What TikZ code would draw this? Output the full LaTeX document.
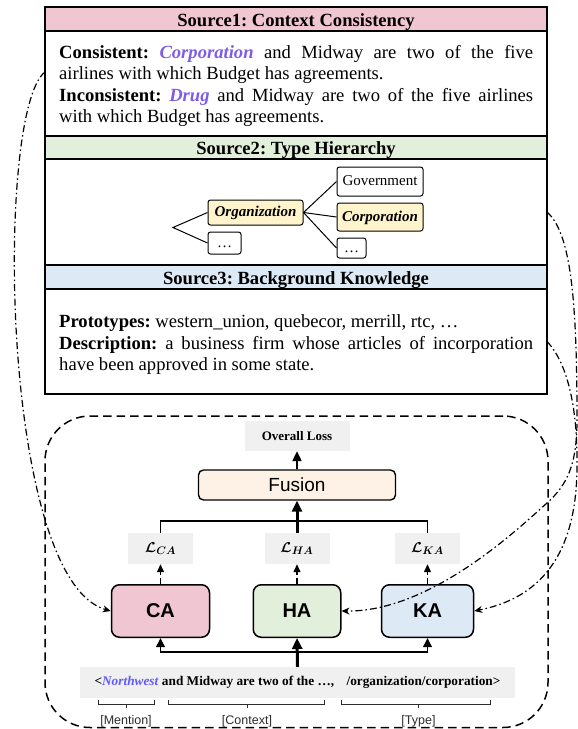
\documentclass[tikz,border=0pt]{standalone}
\usepackage{fontspec}
\usepackage{bm}
\setmainfont{Liberation Serif}
\newfontfamily\sansf{Liberation Sans}
\usetikzlibrary{arrows.meta,calc}
\setlength\parindent{0pt}
\frenchspacing
\definecolor{pinkH}{RGB}{241,198,211}
\definecolor{greenH}{RGB}{226,239,218}
\definecolor{blueH}{RGB}{221,233,245}
\definecolor{fusionC}{RGB}{254,242,230}
\definecolor{grayC}{RGB}{240,240,240}
\definecolor{yellowC}{RGB}{255,244,204}
\definecolor{purpleT}{RGB}{125,92,232}
\definecolor{blueT}{RGB}{98,88,255}
\definecolor{labelC}{RGB}{45,45,45}
\newcommand{\lossL}[1]{$\bm{\mathcal{L}}_{\bm{#1}}$}
\begin{document}
\begin{tikzpicture}[x=1pt,y=-1pt,
  panel/.style={draw, line width=1.3pt, anchor=north west, inner sep=0pt, outer sep=0pt, minimum width=502pt},
  hdrtext/.style={font=\fontsize{18.6}{22}\selectfont\bfseries, inner sep=0pt, anchor=base},
  bodytext/.style={font=\fontsize{18.6}{21.5}\selectfont, text width=474pt, align=justify, inner sep=0pt, anchor=north west},
  thbox/.style={draw, line width=1pt, rounded corners=2.5pt, inner sep=0pt, font=\fontsize{15}{18}\selectfont, text height=10.5pt, text depth=2.5pt},
  thline/.style={line width=1pt},
  graybox/.style={fill=grayC, inner sep=0pt, font=\fontsize{13}{15}\selectfont\bfseries},
  lossbox/.style={fill=grayC, inner sep=0pt, minimum width=65pt, minimum height=31pt, font=\fontsize{15}{17}\selectfont},
  modbox/.style={draw, line width=1.5pt, rounded corners=8pt, minimum height=52.5pt, inner sep=0pt, font=\sansf\bfseries\fontsize{20}{24}\selectfont},
  fusionbox/.style={draw, line width=1.4pt, rounded corners=5pt, fill=fusionC, minimum width=197pt, minimum height=30pt, inner sep=0pt, font=\sansf\fontsize{19}{22}\selectfont},
  framebox/.style={draw, line width=1.5pt, dash pattern=on 8.5pt off 5pt, rounded corners=45pt, anchor=north west, inner sep=0pt, outer sep=0pt},
  dd/.style={line width=1.2pt, dash pattern=on 7pt off 3pt on 1.5pt off 3pt, -{Stealth[length=8pt,width=7pt]}},
  uparrow/.style={line width=2.2pt, -{Triangle[length=10pt,width=9pt]}},
  bigarrow/.style={line width=3pt, -{Triangle[length=11pt,width=10pt]}},
  smallarrow/.style={line width=1.3pt, dash pattern=on 6pt off 3pt, -{Triangle[length=8pt,width=7pt]}},
  branch/.style={line width=1.9pt},
  bracel/.style={line width=1pt, draw=labelC},
  lbl/.style={font=\sansf\fontsize{12.5}{14}\selectfont, text=labelC, inner sep=0pt}
]
\useasboundingbox (0,0) rectangle (578,729);

% ---- top panel ----
\node[panel, fill=pinkH, minimum height=24pt] (h1) at (45,7) {};
\node[panel, minimum height=105pt] (b1) at (45,31) {};
\node[panel, fill=greenH, minimum height=23pt] (h2) at (45,136) {};
\node[panel, minimum height=106pt] (b2) at (45,159) {};
\node[panel, fill=blueH, minimum height=24pt] (h3) at (45,265) {};
\node[panel, minimum height=105pt] (b3) at (45,289) {};

\node[hdrtext] (t1) at (296,26.5) {Source1: Context Consistency};
\node[hdrtext] (t2) at (296,154.3) {Source2: Type Hierarchy};
\node[hdrtext] (t3) at (296,284) {Source3: Background Knowledge};

\node[bodytext] (x1) at (59,43.2) {\strut\textbf{Consistent:} \textcolor{purpleT}{\textbf{\textit{Corporation}}} and Midway are two of the five\linebreak airlines with which Budget has agreements.\par
\textbf{Inconsistent:} \textcolor{purpleT}{\textbf{\textit{Drug}}} and Midway are two of the five airlines\linebreak with which Budget has agreements.};

\node[bodytext] (x3) at (59,312.7) {\strut\textbf{Prototypes:} western\_union, quebecor, merrill, rtc, …\par
\textbf{Description:} a business firm whose articles of incorporation\linebreak have been approved in some state.};

% ---- type hierarchy ----
\node[thbox, fill=yellowC, minimum width=95pt, minimum height=25pt] (org) at (255.5,212.5) {\textbf{\textit{Organization}}};
\node[thbox, minimum width=33pt, minimum height=22pt] (d1) at (224.5,243) {…};
\node[thbox, minimum width=86pt, minimum height=29pt] (gov) at (380,181.5) {Government};
\node[thbox, fill=yellowC, minimum width=86pt, minimum height=28pt] (corp) at (380,217) {\textbf{\textit{Corporation}}};
\node[thbox, minimum width=29pt, minimum height=20pt] (d2) at (351.5,248) {…};
\coordinate (fork) at (173,227.5);
\draw[thline] (org.west) -- (fork) -- (d1.west);
\draw[thline] (org.east) -- (gov.west);
\draw[thline] (org.east) -- (corp.west);
\draw[thline] (org.east) -- (d2.west);

% ---- model frame ----
\node[framebox, minimum width=503pt, minimum height=311.5pt] (frame) at (45,416) {};

\node[graybox, minimum width=105pt, minimum height=30pt] (overall) at (297,436) {Overall Loss};
\node[fusionbox] (fusion) at (297,485) {Fusion};

\node[lossbox] (lca) at (160.5,548.5) {\lossL{CA}};
\node[lossbox] (lha) at (297,548.5) {\lossL{HA}};
\node[lossbox] (lka) at (427.5,548.5) {\lossL{KA}};

\node[modbox, fill=pinkH, minimum width=98pt] (ca) at (160.5,611) {CA};
\node[modbox, fill=greenH, minimum width=87.5pt] (ha) at (297,611) {HA};
\node[modbox, fill=blueH, minimum width=92pt] (ka) at (427.5,611) {KA};

\node[graybox, minimum width=435pt, minimum height=31pt, font=\fontsize{13.3}{15}\selectfont\bfseries] (input) at (297.5,682.5)
  {<\textcolor{blueT}{\textit{Northwest}} and Midway are two of the …,\hspace{9pt} /organization/corporation>};

% connectors
\draw[uparrow] (fusion.north) -- (overall.south);
\coordinate (tb) at (297,521);
\draw[branch] (lca.north) |- (tb) -| (lka.north);
\draw[bigarrow] (lha.north) -- (fusion.south);
\draw[smallarrow] (ca.north) -- (lca.south);
\draw[smallarrow] (ha.north) -- (lha.south);
\draw[smallarrow] (ka.north) -- (lka.south);

\coordinate (bb) at (297,652);
\draw[branch, -{Triangle[length=9pt,width=8.5pt]}] (bb) -| (ca.south);
\draw[branch, -{Triangle[length=9pt,width=8.5pt]}] (bb) -| (ka.south);
\draw[bigarrow] (input.north) -- (ha.south);

% braces and labels
\draw[bracel] (98,699.5) -- (98,704) -- (154.7,704) -- (154.7,699.5);
\draw[bracel] (126,704) -- (126,708);
\draw[bracel] (168,699.5) -- (168,704) -- (324,704) -- (324,699.5);
\draw[bracel] (247,704) -- (247,708);
\draw[bracel] (341.3,699.5) -- (341.3,704) -- (490.4,704) -- (490.4,699.5);
\draw[bracel] (418.5,704) -- (418.5,708);
\node[lbl] (lm) at (126,721.5) {[Mention]};
\node[lbl] (lc) at (247,721.5) {[Context]};
\node[lbl] (lt) at (418.5,721.5) {[Type]};

% dash-dot links
\draw[dd] ([yshift=11.5pt]b1.west) .. controls (-5,110) and (0,580) .. (ca.west);
\draw[dd] (b2.east) .. controls (571,233) and (577,300) .. (577,420)
   .. controls (577,465) and (567,485) .. (547,503)
   .. controls (517,530) and (430,612) .. (ha.east);
\draw[dd] (b3.east) .. controls (565,360) and (577,400) .. (577,460)
   .. controls (578,535) and (555,595) .. (ka.east);
\end{tikzpicture}
\end{document}
